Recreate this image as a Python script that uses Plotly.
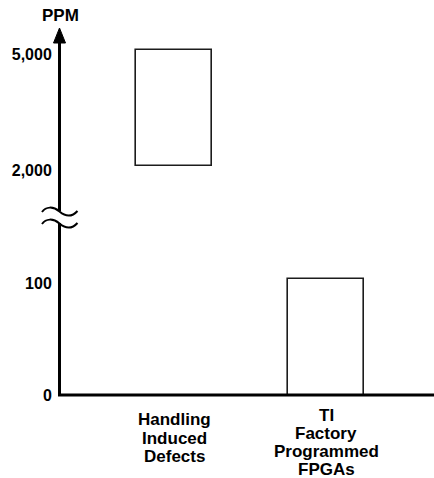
import plotly.graph_objects as go

# ---------------- data ----------------
categories = ["Handling Induced Defects", "TI Factory Programmed FPGAs"]
category_lines = [["Handling", "Induced", "Defects"],
                  ["TI", "Factory", "Programmed", "FPGAs"]]
ppm_base = [2100, 0]
ppm_top = [5100, 104]
lower_tick_vals = [0, 100]
lower_tick_text = ["0", "100"]
upper_tick_vals = [2000, 5000]
upper_tick_text = ["2,000", "5,000"]
y_title = "PPM"

# ---------------- geometry (pixels) ----------------
W, H = 434, 478
AX_X = 59.5            # visual centre of the y axis line
DOM_X = AX_X + 1.5     # plot domain edge (plotly draws the line just outside it)
ZERO_Y, HUNDRED_Y, LOW_TOP_Y = 395.5, 283.0, 223.0
BASE_Y = 395.0
TWO_K_Y, FIVE_K_Y, UP_BOT_Y, UP_TOP_Y = 170.0, 54.0, 211.0, 42.0
CAT0_X, CAT_STEP = 174.0, 152.0
LABEL_FIRST_Y = [419.5, 415.0]
LABEL_STEP = [18.5, 18.0]

FONT = "Liberation Sans, Arial, Helvetica, sans-serif"


def px(x):
    return x / W


def py(y):
    return 1 - y / H


low_scale = (ZERO_Y - HUNDRED_Y) / (lower_tick_vals[1] - lower_tick_vals[0])
low_range = [0, (ZERO_Y - LOW_TOP_Y) / low_scale]
up_scale = (TWO_K_Y - FIVE_K_Y) / (upper_tick_vals[1] - upper_tick_vals[0])
up_range = [upper_tick_vals[0] - (UP_BOT_Y - TWO_K_Y) / up_scale,
            upper_tick_vals[1] + (FIVE_K_Y - UP_TOP_Y) / up_scale]

x_r0 = -(CAT0_X - DOM_X) / CAT_STEP
x_r1 = x_r0 + (W - DOM_X) / CAT_STEP

fig = go.Figure()

bar_style = dict(marker=dict(color="white", line=dict(color="#1c1c1c", width=1.6)),
                 width=0.5, showlegend=False, hoverinfo="skip")

low_idx = [i for i in range(len(categories)) if ppm_base[i] < low_range[1]]
up_idx = [i for i in range(len(categories)) if ppm_base[i] >= low_range[1]]

fig.add_trace(go.Bar(x=[i for i in low_idx],
                     y=[ppm_top[i] - ppm_base[i] for i in low_idx],
                     base=[ppm_base[i] for i in low_idx],
                     xaxis="x", yaxis="y", name="lower", **bar_style))
fig.add_trace(go.Bar(x=[i for i in up_idx],
                     y=[ppm_top[i] - ppm_base[i] for i in up_idx],
                     base=[ppm_base[i] for i in up_idx],
                     xaxis="x", yaxis="y2", name="upper", **bar_style))

tickfont = dict(family=FONT, size=16, color="black", weight="bold")
yax_common = dict(showline=True, linewidth=3, linecolor="black", showgrid=False,
                  zeroline=False, ticks="", ticklabelstandoff=3, tickfont=tickfont,
                  anchor="x", fixedrange=True, automargin=False)

annotations = [dict(text=y_title, x=px(AX_X + 0.5), y=py(15.5), xref="paper", yref="paper",
                    showarrow=False, xanchor="center", yanchor="middle",
                    font=dict(family=FONT, size=17, color="black", weight="bold"))]
for i, lines in enumerate(category_lines):
    for j, line in enumerate(lines):
        annotations.append(dict(text=line, x=i, y=py(LABEL_FIRST_Y[i] + j * LABEL_STEP[i]),
                                xref="x", yref="paper", showarrow=False,
                                xanchor="center", yanchor="middle",
                                font=dict(family=FONT, size=17, color="black", weight="bold")))

shapes = []
# baseline (x axis)
shapes.append(dict(type="line", xref="paper", yref="paper",
                   x0=px(AX_X - 1.5), x1=1, y0=py(BASE_Y), y1=py(BASE_Y),
                   line=dict(color="black", width=3)))
# arrow head at the top of the y axis
shapes.append(dict(type="path", xref="paper", yref="paper",
                   path=(f"M {px(AX_X - 6)},{py(43)} L {px(AX_X)},{py(28)} "
                         f"L {px(AX_X + 6)},{py(43)} Z"),
                   fillcolor="black", line=dict(color="black", width=1)))
# axis break squiggles
for dy in (0, 12):
    pts = [(42, 212 + dy), (46, 206.5 + dy), (53, 206 + dy), (AX_X, 211.5 + dy),
           (66, 217 + dy), (72, 217 + dy), (77.5, 211 + dy)]
    p = (f"M {px(pts[0][0])},{py(pts[0][1])} "
         f"C {px(pts[1][0])},{py(pts[1][1])} {px(pts[2][0])},{py(pts[2][1])} {px(pts[3][0])},{py(pts[3][1])} "
         f"C {px(pts[4][0])},{py(pts[4][1])} {px(pts[5][0])},{py(pts[5][1])} {px(pts[6][0])},{py(pts[6][1])}")
    shapes.append(dict(type="path", xref="paper", yref="paper", path=p,
                       line=dict(color="black", width=2)))

fig.update_layout(
    width=W, height=H,
    margin=dict(l=0, r=0, t=0, b=0, autoexpand=False),
    paper_bgcolor="white", plot_bgcolor="white",
    showlegend=False,
    xaxis=dict(domain=[px(DOM_X), 1], range=[x_r0, x_r1], showline=False,
               showgrid=False, zeroline=False, showticklabels=False,
               ticks="", anchor="y", fixedrange=True, automargin=False),
    yaxis=dict(domain=[py(ZERO_Y), py(LOW_TOP_Y)], range=low_range,
               tickvals=lower_tick_vals, ticktext=lower_tick_text, **yax_common),
    yaxis2=dict(domain=[py(UP_BOT_Y), py(UP_TOP_Y)], range=up_range,
                tickvals=upper_tick_vals, ticktext=upper_tick_text, **yax_common),
    annotations=annotations,
    shapes=shapes,
    bargap=0,
)

fig.write_html("out.html", config={"displayModeBar": False},
               post_script="document.body.style.margin='0';document.body.style.overflow='hidden';")
